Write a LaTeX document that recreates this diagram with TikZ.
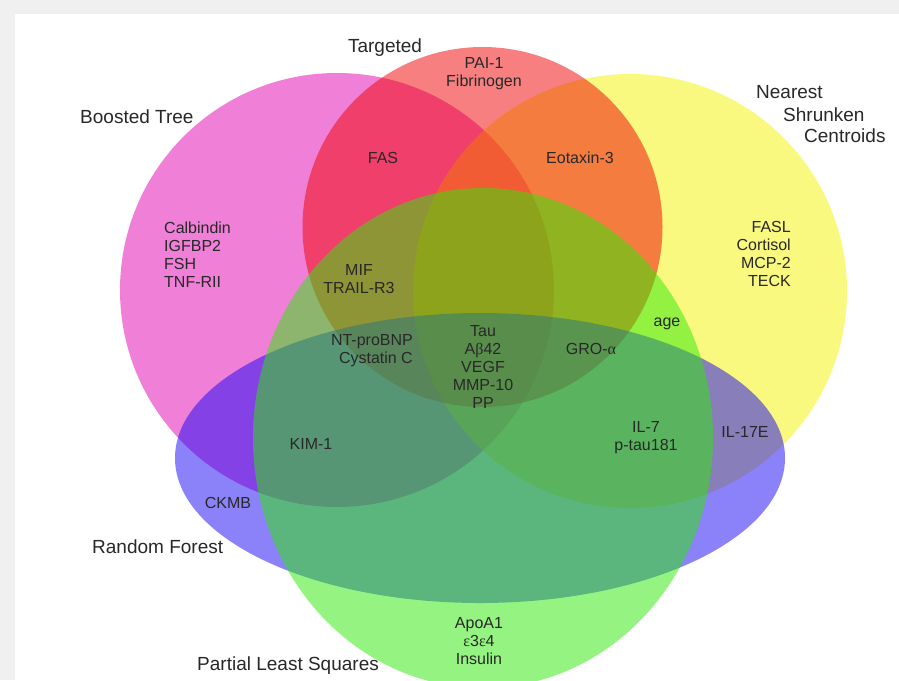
\documentclass[tikz,border=0pt]{standalone}
\usepackage{fontspec}
\setmainfont{Liberation Sans}
\newfontfamily\grk{Liberation Serif}
\definecolor{cpink}{RGB}{225,0,177}
\definecolor{cred}{RGB}{241,0,0}
\definecolor{cyel}{RGB}{245,245,0}
\definecolor{cgrn}{RGB}{45,235,5}
\definecolor{cblu}{RGB}{25,5,245}
\definecolor{txt}{RGB}{40,40,40}
\definecolor{bgg}{RGB}{240,240,240}
\begin{document}
\begin{tikzpicture}[x=1pt,y=-1pt,
  setfill/.style={fill=#1, fill opacity=0.5},
  title/.style={font=\fontsize{19}{22}\selectfont, text=txt, inner sep=0pt},
  item/.style={font=\fontsize{16}{18}\selectfont, text=txt, inner sep=0pt},
]
\useasboundingbox (0,0) rectangle (899,680);
\fill[bgg] (0,0) rectangle (899,680);
\fill[white] (15,14) rectangle (899,680);
\begin{scope}
\clip (0,0) rectangle (899,680);
\fill[setfill=cpink] (337,290) circle[radius=217pt];
\fill[setfill=cyel] (630,291) circle[radius=217pt];
\fill[setfill=cred] (482.5,227) circle[radius=180pt];
\fill[setfill=cblu] (480,458) ellipse[x radius=305pt, y radius=145pt];
\fill[setfill=cgrn] (483,438) ellipse[x radius=230pt, y radius=250pt];
\end{scope}

% titles
\node[title, anchor=base] (targeted) at (385,52) {Targeted};
\node[title, anchor=base west] (boosted) at (80,123) {Boosted Tree};
\node[title, anchor=base west] (nsc1) at (756,98) {Nearest};
\node[title, anchor=base west] (nsc2) at (783,121) {Shrunken};
\node[title, anchor=base west] (nsc3) at (804,142) {Centroids};
\node[title, anchor=base west] (rf) at (92,553) {Random Forest};
\node[title, anchor=base west] (pls) at (197,670) {Partial Least Squares};

% items
\node[item, align=center, anchor=north] (pai) at (484,57.4) {PAI-1\\Fibrinogen};
\node[item, anchor=base] (fas) at (383,163) {FAS};
\node[item, anchor=base] (eot) at (580,163) {Eotaxin-3};
\node[item, align=left, anchor=north west] (calb) at (164,221.4) {Calbindin\\IGFBP2\\FSH\\TNF-RII};
\node[item, align=right, anchor=north east] (fasl) at (791,221.4) {FASL\\Cortisol\\MCP-2\\TECK};
\node[item, align=center, anchor=north] (mif) at (359,264.4) {MIF\\TRAIL-R3};
\node[item, align=right, anchor=north east] (ntp) at (413,334.4) {NT-proBNP\\Cystatin C};
\node[item, align=center, anchor=north] (tau) at (483,325.4) {Tau\\A{\grk β}42\\VEGF\\MMP-10\\PP};
\node[item, anchor=base] (gro) at (591,354) {GRO-{\grk α}};
\node[item, anchor=base] (age) at (667,326) {age};
\node[item, anchor=base] (kim) at (311,449) {KIM-1};
\node[item, align=center, anchor=north] (il7) at (646,421.4) {IL-7\\p-tau181};
\node[item, anchor=base] (il17) at (745,437) {IL-17E};
\node[item, anchor=base] (ckmb) at (228,508) {CKMB};
\node[item, align=center, anchor=north] (apo) at (479,617.4) {ApoA1\\{\grk ε}3{\grk ε}4\\Insulin};
\end{tikzpicture}
\end{document}
